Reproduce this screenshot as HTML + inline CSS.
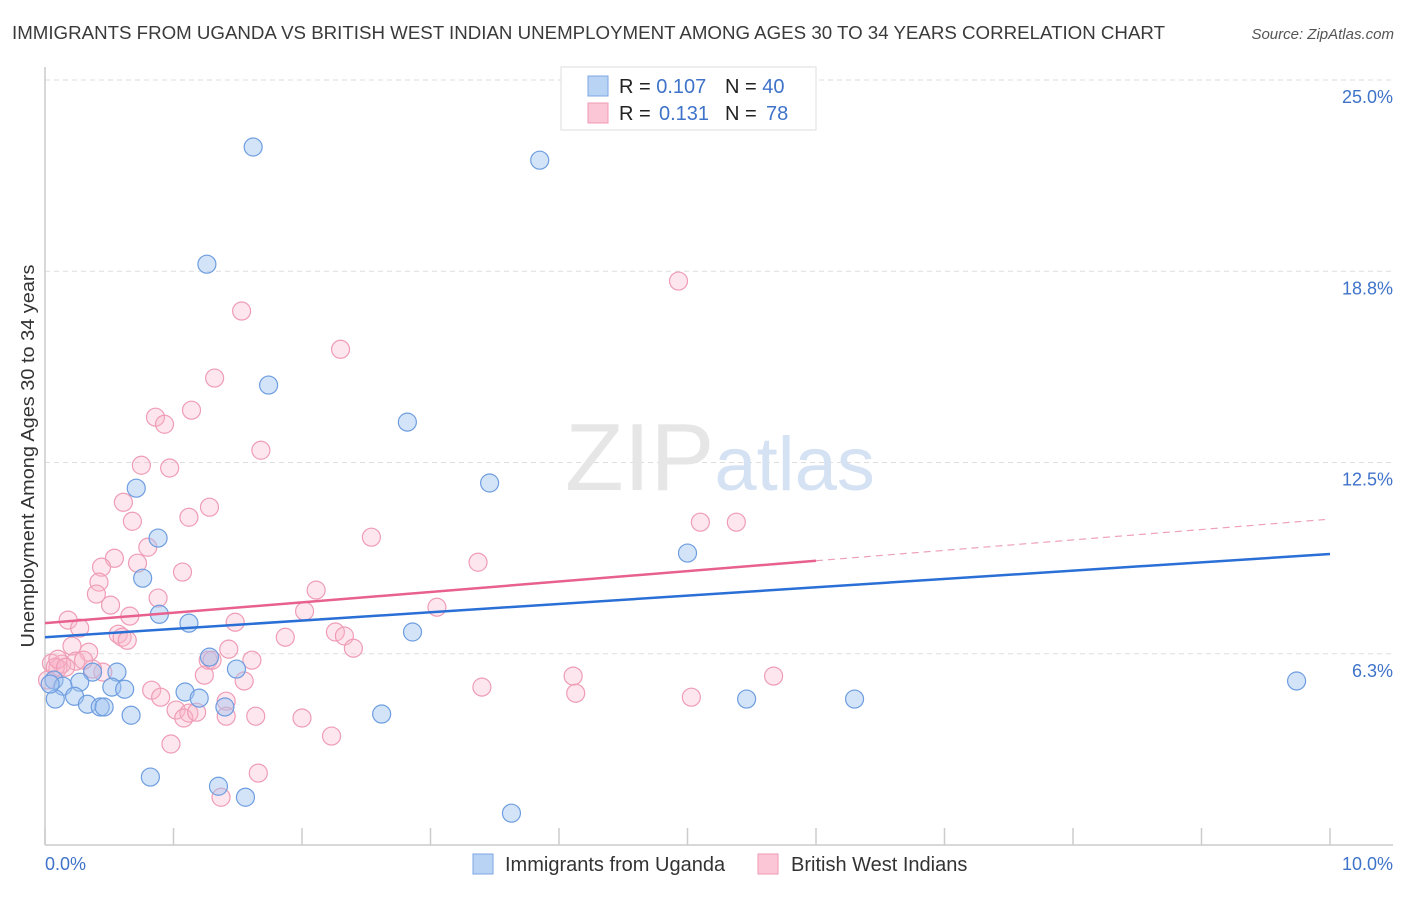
<!DOCTYPE html>
<html><head><meta charset="utf-8"><style>
body{margin:0;background:#fff;font-family:"Liberation Sans",sans-serif;}
svg text{font-family:"Liberation Sans",sans-serif;}
</style></head><body>
<svg id="chart" width="1406" height="892" xmlns="http://www.w3.org/2000/svg">
<text x="12" y="39" font-size="18" fill="#3a3a3a" textLength="1153" lengthAdjust="spacingAndGlyphs">IMMIGRANTS FROM UGANDA VS BRITISH WEST INDIAN UNEMPLOYMENT AMONG AGES 30 TO 34 YEARS CORRELATION CHART</text>
<text x="1394" y="39" font-size="15" fill="#555" font-style="italic" text-anchor="end">Source: ZipAtlas.com</text>
<g id="grid"></g>
<text x="720" y="490" font-size="96" text-anchor="middle" fill="#e6e6e6" font-family="Liberation Serif"><tspan>ZIP</tspan><tspan fill="#d5e2f3" font-family="Liberation Sans" font-size="76">atlas</tspan></text>
<line x1="45" y1="67" x2="45" y2="845" stroke="#ccc" stroke-width="1.5"/>
<line x1="45" y1="845" x2="1393" y2="845" stroke="#ccc" stroke-width="1.5"/>
<g id="xticks"></g>
<g id="pts"></g>
<g id="trends"></g>
<text transform="translate(34,456) rotate(-90)" font-size="18" fill="#333" text-anchor="middle" textLength="383" lengthAdjust="spacingAndGlyphs">Unemployment Among Ages 30 to 34 years</text>
<text x="45" y="870" font-size="18" fill="#3f73c9">0.0%</text>
<text x="1393" y="870" font-size="18" fill="#3f73c9" text-anchor="end">10.0%</text>
<g>
<rect x="561" y="67" width="255" height="63" fill="#fff" stroke="#ddd"/>
<rect x="588" y="76" width="20" height="20" fill="#b9d3f5" stroke="#7ba7e3"/>
<rect x="588" y="103" width="20" height="20" fill="#fbc6d5" stroke="#f09ab4"/>
<text x="619" y="93" font-size="20" fill="#222">R = <tspan fill="#3f73c9">0.107</tspan><tspan x="725">N = </tspan><tspan fill="#3f73c9">40</tspan></text>
<text x="619" y="120" font-size="20" fill="#222">R = <tspan fill="#3f73c9" x="659">0.131</tspan><tspan x="725">N = </tspan><tspan fill="#3f73c9" x="766">78</tspan></text>
</g>
<g>
<rect x="473" y="854" width="20" height="20" fill="#b9d3f5" stroke="#7ba7e3"/>
<text x="505" y="871" font-size="20" fill="#333">Immigrants from Uganda</text>
<rect x="758" y="854" width="20" height="20" fill="#fbc6d5" stroke="#f09ab4"/>
<text x="791" y="871" font-size="20" fill="#333">British West Indians</text>
</g>
</svg>
<script>
const yTicks=[6.25,12.5,18.75,25];
const yTickLabels=["6.3%","12.5%","18.8%","25.0%"];
const xTicks=[0,1,2,3,4,5,6,7,8,9,10];
const blueX=[1.62,3.85,1.26,1.74,2.82,0.71,3.46,0.88,5.00,0.76,0.89,1.12,2.86,1.28,1.49,0.56,0.37,0.27,0.07,0.14,0.52,0.62,1.09,1.20,0.23,0.08,0.33,0.43,0.46,0.67,1.40,2.62,5.46,6.30,9.74,0.82,1.35,1.56,3.63,0.04];
const blueY=[22.81,22.38,18.98,15.03,13.82,11.66,11.83,10.03,9.54,8.72,7.54,7.25,6.96,6.14,5.75,5.65,5.65,5.32,5.39,5.19,5.16,5.09,5.00,4.80,4.86,4.77,4.60,4.51,4.51,4.24,4.51,4.28,4.77,4.77,5.36,2.22,1.92,1.56,1.04,5.26];
const pinkX=[4.93,1.53,2.30,1.32,0.86,0.93,1.14,1.68,0.75,0.97,0.61,1.28,0.68,1.12,5.10,5.38,2.54,0.80,0.54,3.37,0.72,0.44,1.07,0.42,2.11,0.40,0.88,0.51,3.05,2.02,0.66,0.18,1.48,0.27,2.26,2.33,0.57,0.60,0.64,1.87,2.40,1.43,0.21,0.34,1.61,1.27,0.24,0.13,0.05,0.10,0.45,0.37,1.24,4.11,1.55,0.83,3.40,0.90,4.13,5.03,1.41,1.02,1.12,1.08,1.18,1.41,1.64,2.00,2.23,0.98,1.66,1.37,0.08,0.02,0.10,0.16,0.30,1.30,5.67];
const pinkY=[18.43,17.45,16.20,15.26,13.98,13.75,14.21,12.90,12.41,12.32,11.20,11.04,10.58,10.71,10.55,10.55,10.06,9.73,9.37,9.24,9.21,9.08,8.92,8.59,8.33,8.20,8.07,7.84,7.77,7.64,7.48,7.35,7.28,7.09,6.96,6.83,6.89,6.79,6.69,6.79,6.43,6.40,6.50,6.30,6.04,6.04,6.01,5.91,5.94,5.78,5.65,5.75,5.55,5.52,5.36,5.06,5.16,4.83,4.96,4.83,4.70,4.41,4.31,4.15,4.34,4.21,4.21,4.15,3.56,3.30,2.35,1.56,5.81,5.39,6.07,5.81,6.04,6.04,5.52];
const blueTrend=[6.79,0.272];
const pinkTrend=[7.25,0.34];
const pinkSolidEnd=6.0;

const NS="http://www.w3.org/2000/svg";
const xs=v=>45+v*128.5;
const ys=v=>845-v*30.6;
function mk(tag,attrs,parent){const e=document.createElementNS(NS,tag);for(const k in attrs)e.setAttribute(k,attrs[k]);parent.appendChild(e);return e;}
const grid=document.getElementById('grid');
mk('line',{x1:45,x2:1393,y1:80,y2:80,stroke:'#ddd','stroke-dasharray':'5,4'},grid);
yTicks.forEach((t,i)=>{
  const l=mk('line',{x1:45,x2:1393,y1:ys(t),y2:ys(t),stroke:'#ddd','stroke-dasharray':'5,4'},grid);
  
  
  const tx=mk('text',{x:1393,y:ys(t)+23,'font-size':18,fill:'#3f73c9','text-anchor':'end'},grid);
  tx.textContent=yTickLabels[i];
  
  
});
const xt=document.getElementById('xticks');
xTicks.forEach(t=>{
  const l=mk('line',{x1:xs(t),x2:xs(t),y1:828,y2:845,stroke:'#ccc','stroke-width':1.5},xt);
  
  
});
const pts=document.getElementById('pts');
pinkX.forEach((x,i)=>{
  const c=mk('circle',{cx:xs(x),cy:ys(pinkY[i]),r:9,fill:'rgba(248,182,202,0.35)',stroke:'#ef9cb6','stroke-width':1.2},pts);
  
  
});
blueX.forEach((x,i)=>{
  const c=mk('circle',{cx:xs(x),cy:ys(blueY[i]),r:9,fill:'rgba(160,196,240,0.45)',stroke:'#6d9de0','stroke-width':1.2},pts);
  
  
});
const tr=document.getElementById('trends');
const bl=mk('line',{x1:xs(0),y1:ys(blueTrend[0]),x2:xs(10),y2:ys(blueTrend[0]+blueTrend[1]*10),stroke:'#2a6fd6','stroke-width':2.5},tr);


const pl=mk('line',{x1:xs(0),y1:ys(pinkTrend[0]),x2:xs(pinkSolidEnd),y2:ys(pinkTrend[0]+pinkTrend[1]*pinkSolidEnd),stroke:'#e8608e','stroke-width':2.5},tr);


const pd=mk('line',{x1:xs(pinkSolidEnd),y1:ys(pinkTrend[0]+pinkTrend[1]*pinkSolidEnd),x2:xs(9.96),y2:ys(pinkTrend[0]+pinkTrend[1]*9.96),stroke:'#eea0b8','stroke-width':1.2,'stroke-dasharray':'7,5'},tr);


</script>
</body></html>
